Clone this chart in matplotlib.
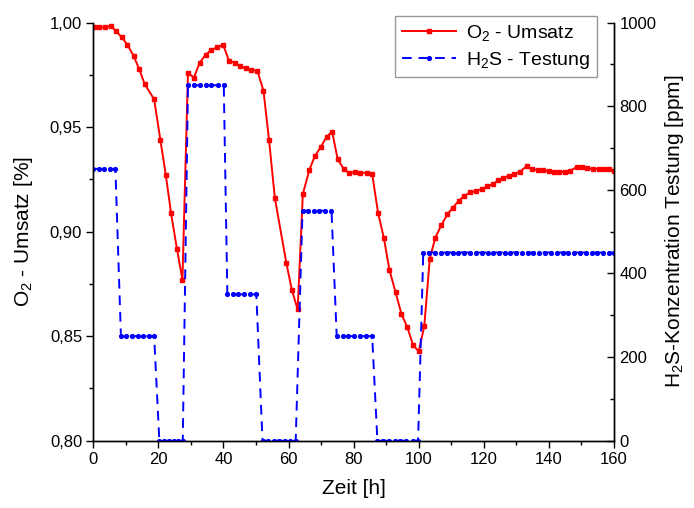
import matplotlib
matplotlib.use("Agg")
import matplotlib.pyplot as plt
from matplotlib.ticker import FixedLocator, FuncFormatter, MultipleLocator

plt.rcParams['font.family'] = ['Liberation Sans', 'DejaVu Sans']
plt.rcParams['mathtext.fontset'] = 'custom'
plt.rcParams['mathtext.rm'] = 'Liberation Sans'
plt.rcParams['mathtext.it'] = 'Liberation Sans'

# O2 conversion (left axis)
t_o2 = [0.2, 1.9, 3.6, 5.4, 7.0, 8.8, 10.5, 12.4, 14.1, 15.8, 18.7, 20.6, 22.3,
        23.9, 25.7, 27.4, 29.1, 30.9, 32.7, 34.5, 36.2, 38.1, 39.9, 41.7, 43.4,
        45.1, 46.8, 48.6, 50.4, 52.3, 54.0, 55.8, 59.3, 61.0, 62.8, 64.4, 66.4,
        68.1, 69.9, 71.7, 73.4, 75.1, 77.0, 78.7, 80.5, 82.1, 84.0, 85.7, 87.5,
        89.3, 91.0, 92.9, 94.7, 96.5, 98.3, 100.0, 101.7, 103.4, 105.1, 107.0,
        108.8, 110.5, 112.3, 114.0, 115.8, 117.6, 119.3, 121.1, 122.8, 124.5,
        126.0, 127.8, 129.4, 131.2, 133.2, 134.8, 136.5, 138.2, 139.9, 141.7,
        143.2, 145.1, 146.6, 148.5, 150.2, 151.7, 153.5, 155.3, 156.8, 158.5, 160.0]
o2 = [0.9977, 0.9977, 0.9977, 0.9983, 0.9958, 0.9929, 0.9893, 0.9840, 0.9778, 0.9705,
      0.9633, 0.9440, 0.9270, 0.9088, 0.8918, 0.8770, 0.9760, 0.9736, 0.9808, 0.9845,
      0.9869, 0.9881, 0.9894, 0.9817, 0.9808, 0.9792, 0.9781, 0.9773, 0.9770, 0.9674,
      0.9439, 0.9160, 0.8852, 0.8722, 0.8628, 0.9180, 0.9295, 0.9362, 0.9404, 0.9454,
      0.9478, 0.9346, 0.9299, 0.9280, 0.9284, 0.9282, 0.9280, 0.9276, 0.9090, 0.8969,
      0.8817, 0.8709, 0.8606, 0.8542, 0.8456, 0.8427, 0.8547, 0.8870, 0.8971, 0.9032,
      0.9082, 0.9115, 0.9147, 0.9171, 0.9187, 0.9194, 0.9203, 0.9216, 0.9227, 0.9245,
      0.9256, 0.9268, 0.9276, 0.9287, 0.9314, 0.9298, 0.9295, 0.9294, 0.9289, 0.9287,
      0.9287, 0.9284, 0.9292, 0.9308, 0.9308, 0.9303, 0.9300, 0.9300, 0.9298, 0.9300, 0.9292]

# H2S test concentration (right axis)
t_h2s = [0.0, 1.7, 3.4, 5.1, 6.8,
         8.5, 10.2, 11.9, 13.6, 15.3, 17.0, 18.7,
         20.3, 21.8, 23.4, 24.7, 26.0, 27.5,
         29.1, 30.9, 32.7, 34.5, 36.3, 38.2, 40.1,
         41.2, 42.9, 44.6, 46.3, 48.1, 50.1,
         52.0, 53.7, 55.4, 57.1, 58.8, 60.5, 62.2,
         64.3, 66.0, 67.8, 69.5, 71.3, 73.2,
         74.8, 76.7, 78.4, 80.2, 82.0, 83.9, 85.7,
         87.3, 89.0, 90.9, 92.6, 94.4, 96.2, 98.1, 99.8,
         101.4, 103.3, 105.0, 106.8, 108.6, 110.4, 112.2, 114.0, 115.8, 117.5,
         119.3, 121.2, 122.9, 124.7, 126.6, 128.1, 129.9, 131.7, 133.5, 135.2,
         137.0, 138.8, 140.6, 142.4, 144.2, 146.0, 147.7, 149.5, 151.3, 153.1,
         154.9, 156.7, 158.4, 160.0]
h2s = [650, 650, 650, 650, 650,
       250, 250, 250, 250, 250, 250, 250,
       0, 0, 0, 0, 0, 0,
       850, 850, 850, 850, 850, 850, 850,
       350, 350, 350, 350, 350, 350,
       0, 0, 0, 0, 0, 0, 0,
       550, 550, 550, 550, 550, 550,
       250, 250, 250, 250, 250, 250, 250,
       0, 0, 0, 0, 0, 0, 0, 0,
       450, 450, 450, 450, 450, 450, 450, 450, 450, 450,
       450, 450, 450, 450, 450, 450, 450, 450, 450, 450,
       450, 450, 450, 450, 450, 450, 450, 450, 450, 450,
       450, 450, 450, 450]

fig = plt.figure(figsize=(6.94, 5.08), dpi=100)
ax = fig.add_axes([0.1344, 0.1325, 0.7503, 0.8232])
ax2 = ax.twinx()

l1, = ax.plot(t_o2, o2, color='#ff0000', lw=1.4, marker='s', ms=2.6,
              label='O$_2$ - Umsatz')
l2, = ax2.plot(t_h2s, h2s, color='#0000ff', lw=1.4, ls=(0, (5, 3.5)), marker='o', ms=2.7,
               label='H$_2$S - Testung')

ax.set_xlim(0, 160)
ax.set_ylim(0.80, 1.00)
ax2.set_ylim(0, 1000)

ax.xaxis.set_major_locator(MultipleLocator(20))
ax.xaxis.set_minor_locator(MultipleLocator(10))
ax.yaxis.set_major_locator(FixedLocator([0.80, 0.85, 0.90, 0.95, 1.00]))
ax.yaxis.set_minor_locator(FixedLocator([0.825, 0.875, 0.925, 0.975]))
ax.yaxis.set_major_formatter(FuncFormatter(lambda v, p: f"{v:.2f}".replace('.', ',')))
ax2.yaxis.set_major_locator(MultipleLocator(200))
ax2.yaxis.set_minor_locator(MultipleLocator(100))

for a in (ax, ax2):
    a.spines['top'].set_visible(False)
    for s in a.spines.values():
        s.set_linewidth(1.0)

ax.tick_params(axis='both', which='major', direction='out', length=5, width=1.0,
               labelsize=12, pad=3)
ax.tick_params(axis='both', which='minor', direction='out', length=3, width=1.0)
ax2.tick_params(axis='y', which='major', direction='in', length=5, width=1.0,
                labelsize=12, pad=4)
ax2.tick_params(axis='y', which='minor', direction='in', length=3, width=1.0)

ax.set_xlabel('Zeit [h]', fontsize=15, labelpad=9)
ax.set_ylabel('O$_2$ - Umsatz [%]', fontsize=15, labelpad=11)
ax2.set_ylabel('H$_2$S-Konzentration Testung [ppm]', fontsize=15, labelpad=5)

leg = ax2.legend(handles=[l1, l2], loc='upper left', bbox_to_anchor=(0.569, 0.9685),
                 bbox_transform=fig.transFigure, borderaxespad=0, fontsize=14,
                 fancybox=False, framealpha=1, edgecolor='#999999', numpoints=1,
                 handlelength=2.8, handletextpad=0.5, borderpad=0.35, labelspacing=0.35)
leg.get_frame().set_linewidth(1.0)

fig.savefig('out.png', dpi=100)
